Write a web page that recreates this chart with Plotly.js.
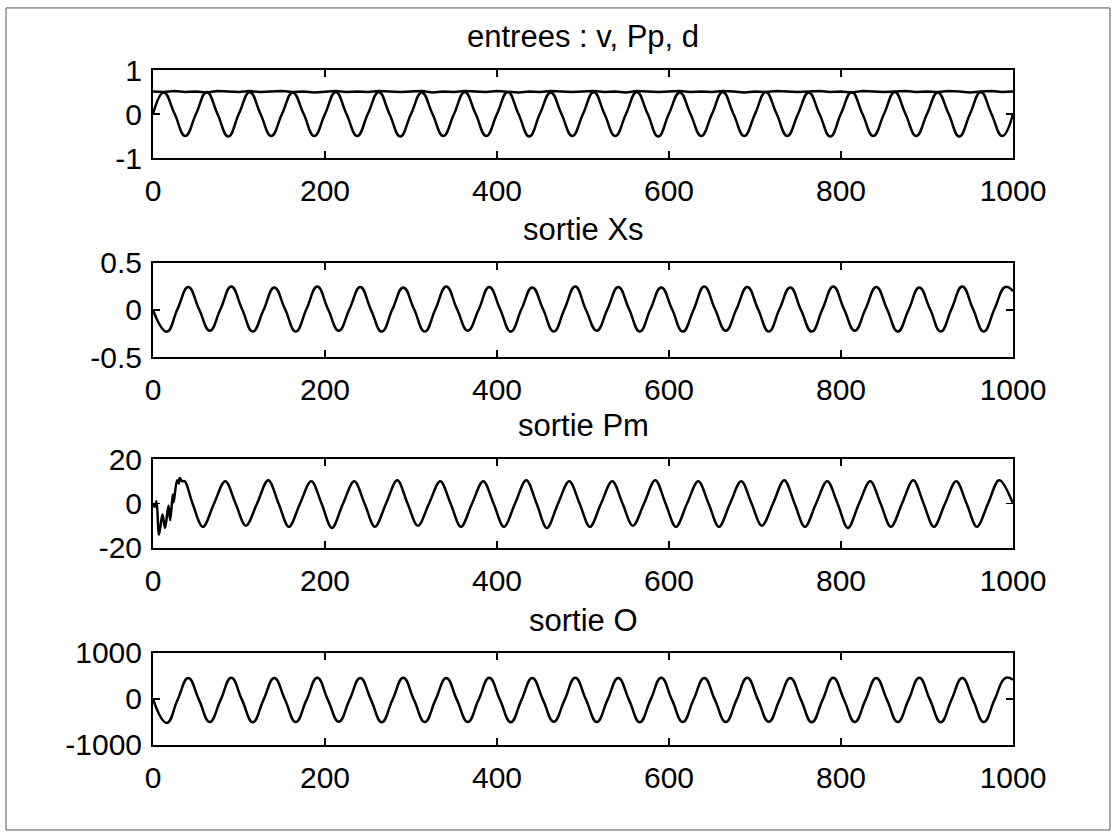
<!DOCTYPE html>
<html>
<head>
<meta charset="utf-8">
<script src="https://cdn.plot.ly/plotly-3.0.1.min.js"></script>
<style>
  html, body { margin: 0; padding: 0; background: #ffffff; }
  #chart { width: 1115px; height: 836px; }
</style>
</head>
<body>
<div id="chart"></div>
<script>
// ---------- data ----------
const subplotTitles = ["entrees : v, Pp, d", "sortie Xs", "sortie Pm", "sortie O"];

const xTickVals = [0, 200, 400, 600, 800, 1000];
const xTickText = ["0", "200", "400", "600", "800", "1000"];

const yTickVals1 = [-1, 0, 1];        const yTickText1 = ["-1", "0", "1"];
const yTickVals2 = [-0.5, 0, 0.5];    const yTickText2 = ["-0.5", "0", "0.5"];
const yTickVals3 = [-20, 0, 20];      const yTickText3 = ["-20", "0", "20"];
const yTickVals4 = [-1000, 0, 1000];  const yTickText4 = ["-1000", "0", "1000"];

// time samples for the inputs (plot 1)
const tIn = [0,12.5,25,37.5,50,62.5,75,87.5,100,112.5,125,137.5,150,162.5,175,187.5,200,212.5,225,237.5,
  250,262.5,275,287.5,300,312.5,325,337.5,350,362.5,375,387.5,400,412.5,425,437.5,450,462.5,475,487.5,
  500,512.5,525,537.5,550,562.5,575,587.5,600,612.5,625,637.5,650,662.5,675,687.5,700,712.5,725,737.5,
  750,762.5,775,787.5,800,812.5,825,837.5,850,862.5,875,887.5,900,912.5,925,937.5,950,962.5,975,987.5,1000];

// v : nearly constant input around 0.5
const vIn = [0.51,0.50,0.52,0.50,0.51,0.49,0.52,0.51,0.50,0.52,0.50,0.51,0.52,0.50,0.51,0.49,0.51,0.52,0.50,0.51,
  0.50,0.52,0.51,0.50,0.51,0.52,0.49,0.51,0.50,0.52,0.51,0.50,0.52,0.51,0.49,0.51,0.50,0.52,0.51,0.50,
  0.51,0.52,0.50,0.51,0.49,0.52,0.51,0.50,0.51,0.52,0.50,0.51,0.50,0.52,0.51,0.49,0.51,0.50,0.52,0.51,
  0.50,0.51,0.52,0.50,0.51,0.49,0.52,0.51,0.50,0.51,0.52,0.50,0.51,0.50,0.52,0.51,0.49,0.51,0.52,0.50,0.51];

// Pp : periodic input between -0.5 and 0.5
const ppIn = [0.00,0.49,0.01,-0.50, 0.00,0.50,0.00,-0.51, 0.01,0.50,0.00,-0.50, 0.00,0.49,0.01,-0.50,
  0.00,0.50,0.00,-0.50, 0.01,0.50,0.00,-0.51, 0.00,0.49,0.00,-0.50, 0.00,0.50,0.01,-0.50,
  0.00,0.50,0.00,-0.51, 0.01,0.49,0.00,-0.50, 0.00,0.50,0.00,-0.50, 0.00,0.50,0.01,-0.51,
  0.01,0.49,0.00,-0.50, 0.00,0.50,0.00,-0.50, 0.00,0.50,0.01,-0.50, 0.00,0.49,0.00,-0.51,
  0.01,0.50,0.00,-0.50, 0.00,0.50,0.00,-0.50, 0.00,0.49,0.01,-0.51, 0.00,0.50,0.00,-0.50, 0.00];

// time samples for outputs Xs and O
const tOut = [0,16,28.5,41,53.5,66,78.5,91,103.5,116,128.5,141,153.5,166,178.5,191,203.5,216,228.5,241,
  253.5,266,278.5,291,303.5,316,328.5,341,353.5,366,378.5,391,403.5,416,428.5,441,453.5,466,478.5,491,
  503.5,516,528.5,541,553.5,566,578.5,591,603.5,616,628.5,641,653.5,666,678.5,691,703.5,716,728.5,741,
  753.5,766,778.5,791,803.5,816,828.5,841,853.5,866,878.5,891,903.5,916,928.5,941,953.5,966,978.5,991,1000];

// Xs output
const xsOut = [0.00,
  -0.23,0.01,0.245,0.01, -0.22,0.01,0.25,0.01, -0.23,0.00,0.24,0.01, -0.23,0.01,0.25,0.01,
  -0.22,0.01,0.245,0.00, -0.23,0.01,0.24,0.01, -0.23,0.01,0.25,0.01, -0.22,0.00,0.245,0.01,
  -0.23,0.01,0.24,0.01, -0.23,0.01,0.25,0.00, -0.22,0.01,0.245,0.01, -0.23,0.01,0.24,0.01,
  -0.23,0.00,0.25,0.01, -0.22,0.01,0.245,0.01, -0.23,0.01,0.24,0.00, -0.23,0.01,0.25,0.01,
  -0.22,0.01,0.245,0.01, -0.23,0.00,0.24,0.01, -0.23,0.01,0.25,0.01,
  -0.23,0.01,0.245, 0.20];

// O output
const oOut = [0,
  -520,-20,455,-20, -500,-25,460,-20, -505,-20,455,-15, -500,-20,460,-25,
  -495,-20,455,-20, -505,-15,460,-20, -500,-20,455,-25, -500,-20,460,-20,
  -505,-20,455,-20, -495,-25,460,-15, -500,-20,455,-20, -505,-20,460,-20,
  -500,-15,455,-25, -500,-20,460,-20, -495,-20,455,-20, -505,-25,460,-15,
  -500,-20,455,-20, -500,-20,460,-20, -505,-15,455,-20,
  -500,-20,455, 420];

// Pm output (with start-up transient)
const tPm = [0,2,4,7,11,14,18,20,23,24,28,30,31,34,37,
  46,58,71,84, 96,108,121,134, 146,158,171,184, 196,208,221,234, 246,258,271,284,
  296,308,321,334, 346,358,371,384, 396,408,421,434, 446,458,471,484, 496,508,521,534,
  546,558,571,584, 596,608,621,634, 646,658,671,684, 696,708,721,734, 746,758,771,784,
  796,808,821,834, 846,858,871,884, 896,908,921,934, 946,958,971,984, 1000];

const pmOut = [0,-1.5,1,-14,-5,-11,-1,-7.5,4,0.5,10.5,9,11.5,10,10,
  0,-10.5,0,10, 0,-10,0,10.5, 0,-10.5,0,10, 0,-11,0,10, 0,-10.5,0,10.5,
  0,-10,0,10, 0,-10.5,0,10, 0,-10.5,0,10.5, 0,-11,0,10, 0,-10.5,0,10,
  0,-10,0,10.5, 0,-10.5,0,10, 0,-10.5,0,10, 0,-10,0,10.5, 0,-10.5,0,10,
  0,-11,0,10, 0,-10.5,0,10.5, 0,-10.5,0,10, 0,-10.5,0,10.5, 0];

// ---------- figure ----------
const lineStyle = {color: '#000000', width: 2.5, shape: 'spline', smoothing: 1.3};
const traces = [
  {x: tIn, y: vIn, xaxis: 'x', yaxis: 'y', mode: 'lines', line: {color: '#000000', width: 2.5}},
  {x: tIn, y: ppIn, xaxis: 'x', yaxis: 'y', mode: 'lines', line: lineStyle},
  {x: tOut, y: xsOut, xaxis: 'x2', yaxis: 'y2', mode: 'lines', line: lineStyle},
  {x: tPm, y: pmOut, xaxis: 'x3', yaxis: 'y3', mode: 'lines', line: {color: '#000000', width: 2.5, shape: 'spline', smoothing: 1}},
  {x: tOut, y: oOut, xaxis: 'x4', yaxis: 'y4', mode: 'lines', line: lineStyle}
];

const fam = '"Liberation Sans", Arial, Helvetica, sans-serif';
const tickFont = {family: fam, size: 30, color: '#000000'};
const titleFont = {family: fam, size: 31, color: '#000000'};

function xAx(anchor) {
  return {
    anchor: anchor, domain: [0, 1], range: [0, 1000],
    tickmode: 'array', tickvals: xTickVals, ticktext: xTickText,
    ticks: 'inside', ticklen: 7, tickwidth: 1.5, tickcolor: '#000',
    showline: true, linecolor: '#000', linewidth: 2, mirror: 'ticks',
    showgrid: false, zeroline: false, tickfont: tickFont, ticklabelstandoff: 5
  };
}
function yAx(anchor, dom, rng, tv, tt) {
  return {
    anchor: anchor, domain: dom, range: rng,
    tickmode: 'array', tickvals: tv, ticktext: tt,
    ticks: 'inside', ticklen: 7, tickwidth: 1.5, tickcolor: '#000',
    showline: true, linecolor: '#000', linewidth: 2, mirror: 'ticks',
    showgrid: false, zeroline: false, tickfont: tickFont, ticklabelstandoff: 3
  };
}

const titleY = [1.049, 0.763, 0.474, 0.185];
const annotations = subplotTitles.map((t, i) => ({
  text: t, xref: 'paper', yref: 'paper', x: 0.5, y: titleY[i],
  xanchor: 'center', yanchor: 'middle', showarrow: false, font: titleFont
}));

const layout = {
  width: 1115, height: 836,
  margin: {l: 153, r: 102, t: 70, b: 91},
  paper_bgcolor: '#ffffff', plot_bgcolor: '#ffffff',
  showlegend: false,
  font: tickFont,
  xaxis: xAx('y'), xaxis2: xAx('y2'), xaxis3: xAx('y3'), xaxis4: xAx('y4'),
  yaxis: yAx('x', [0.8696, 1], [-1, 1], yTickVals1, yTickText1),
  yaxis2: yAx('x2', [0.5748, 0.7141], [-0.5, 0.5], yTickVals2, yTickText2),
  yaxis3: yAx('x3', [0.2919, 0.4237], [-20, 20], yTickVals3, yTickText3),
  yaxis4: yAx('x4', [0, 0.1363], [-1000, 1000], yTickVals4, yTickText4),
  annotations: annotations,
  shapes: [{type: 'rect', xref: 'paper', yref: 'paper', x0: -0.1709, x1: 1.1128, y0: -0.1259, y1: 1.0919,
            line: {color: '#555', width: 1}, fillcolor: 'rgba(0,0,0,0)', layer: 'below'}]
};

Plotly.newPlot('chart', traces, layout, {displayModeBar: false, staticPlot: true});
</script>
</body>
</html>
